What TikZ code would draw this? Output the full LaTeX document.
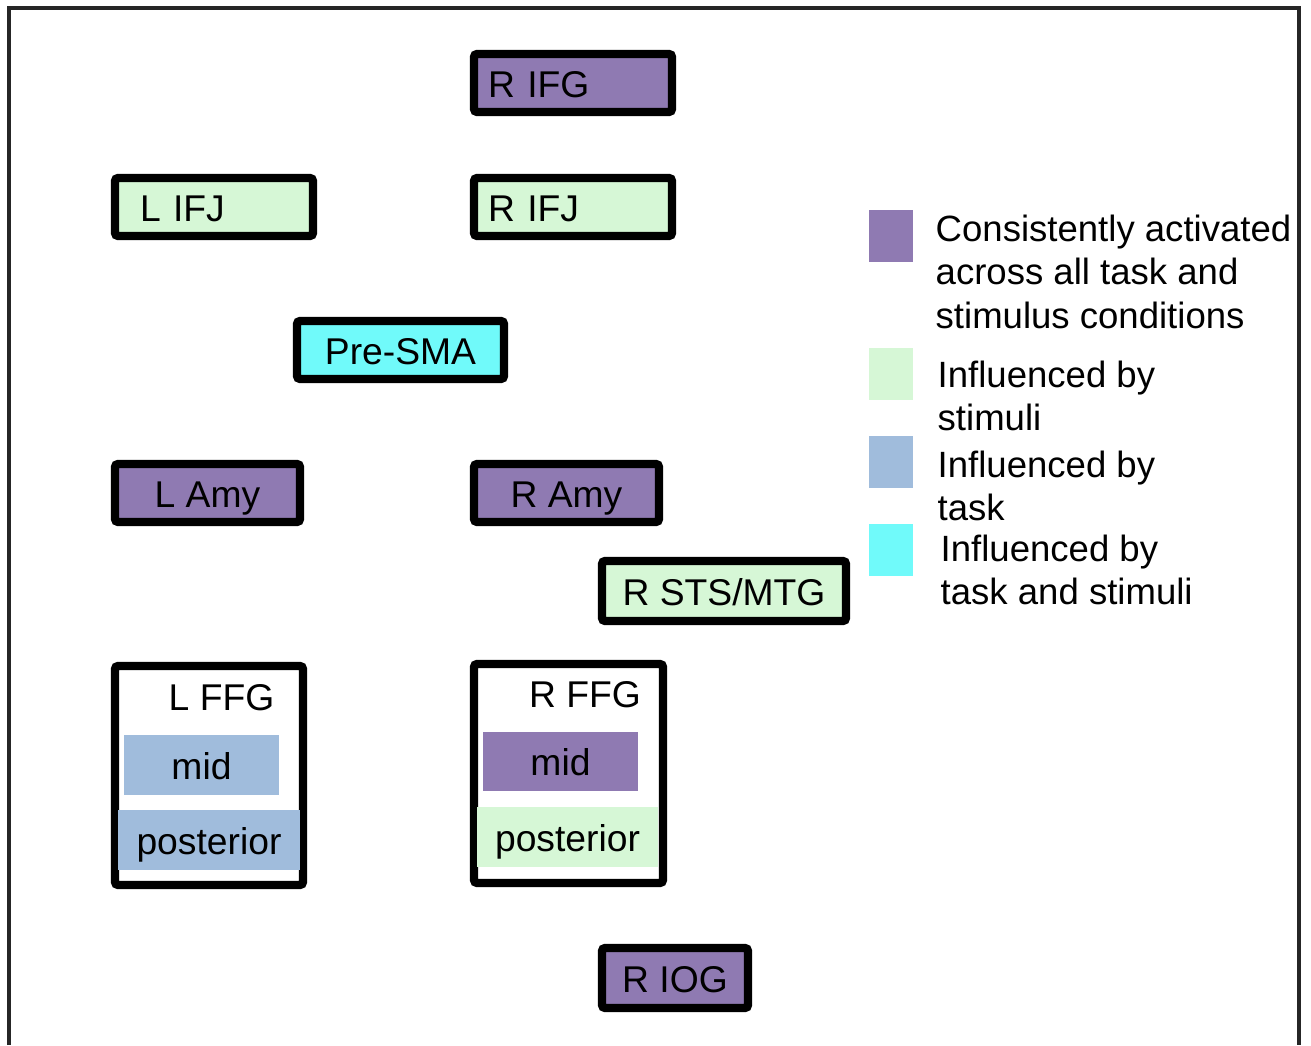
\documentclass[tikz,border=0pt]{standalone}
\usepackage{fontspec}
\setmainfont{Liberation Sans}
\definecolor{consist}{RGB}{143,122,178}
\definecolor{stim}{RGB}{214,247,214}
\definecolor{task}{RGB}{160,188,220}
\definecolor{both}{RGB}{112,250,250}
\newcommand\regionfont{\fontsize{10.6}{12.7}\selectfont}
\newcommand\legendfont{\fontsize{10.4}{12.4}\selectfont}

\begin{document}
\begin{tikzpicture}[
  region/.style={draw, line width=2.3pt, rounded corners=0.8pt, minimum height=0.58cm,
    inner sep=0pt, text height=0.34cm, text depth=0.05cm, font=\regionfont},
  part/.style={minimum height=0.60cm, inner sep=0pt, text height=0.34cm, text depth=0.05cm, font=\regionfont},
  swatch/.style={minimum width=0.44cm, minimum height=0.52cm, inner sep=0pt},
  keytext/.style={anchor=north west, inner sep=0pt, align=left, font=\legendfont}]
  \useasboundingbox (0,0) rectangle (13.11,10.45);
  % frame, open at the bottom
  \draw[line width=0.9pt, black!85] (0.09,0) |- (12.99,10.37) -- (12.99,0);

  % frontal regions
  \node[region, fill=consist, minimum width=1.98cm, text width=1.70cm, inner xsep=0.14cm, align=left] (rifg) at (5.73,9.62) {R IFG};
  \node[region, fill=stim, minimum width=1.98cm, text width=1.48cm, inner xsep=0.25cm, align=left] (lifj) at (2.14,8.38) {L IFJ};
  \node[region, fill=stim, minimum width=1.98cm, text width=1.70cm, inner xsep=0.14cm, align=left] (rifj) at (5.73,8.38) {R IFJ};
  \node[region, fill=both, minimum width=2.07cm] (presma) at (4.005,6.95) {Pre-SMA};

  % amygdala and temporal
  \node[region, fill=consist, minimum width=1.85cm] (lamy) at (2.075,5.52) {L Amy};
  \node[region, fill=consist, minimum width=1.85cm] (ramy) at (5.665,5.52) {R Amy};
  \node[region, fill=stim, minimum width=2.44cm, minimum height=0.60cm] (rsts) at (7.24,4.54) {R STS/MTG};

  % fusiform
  \node[region, fill=white, minimum width=1.88cm, minimum height=2.19cm] (lffg) at (2.09,2.695) {};
  \node[font=\regionfont, inner sep=0pt] (lffg-t) at (2.215,3.47) {L FFG};
  \node[part, fill=task, minimum width=1.55cm] (lmid) at (2.015,2.80) {mid};
  \node[part, fill=task, minimum width=1.82cm] (lpost) at (2.09,2.05) {posterior};

  \node[region, fill=white, minimum width=1.89cm, minimum height=2.19cm] (rffg) at (5.685,2.715) {};
  \node[font=\regionfont, inner sep=0pt] (rffg-t) at (5.85,3.50) {R FFG};
  \node[part, fill=consist, minimum width=1.55cm, minimum height=0.59cm] (rmid) at (5.605,2.835) {mid};
  \node[part, fill=stim, minimum width=1.81cm] (rpost) at (5.675,2.08) {posterior};

  \node[region, fill=consist, minimum width=1.46cm, minimum height=0.60cm] (riog) at (6.75,0.67) {R IOG};

  % legend
  \node[swatch, fill=consist] (kcons) at (8.91,8.09) {};
  \node[keytext] (kcons-t) at (9.35,8.31) {Consistently activated\\across all task and\\stimulus conditions};
  \node[swatch, fill=stim] (kstim) at (8.91,6.71) {};
  \node[keytext] (kstim-t) at (9.37,6.85) {Influenced by\\stimuli};
  \node[swatch, fill=task] (ktask) at (8.91,5.83) {};
  \node[keytext] (ktask-t) at (9.37,5.95) {Influenced by\\task};
  \node[swatch, fill=both] (kboth) at (8.91,4.95) {};
  \node[keytext] (kboth-t) at (9.40,5.11) {Influenced by\\task and stimuli};
\end{tikzpicture}
\end{document}
